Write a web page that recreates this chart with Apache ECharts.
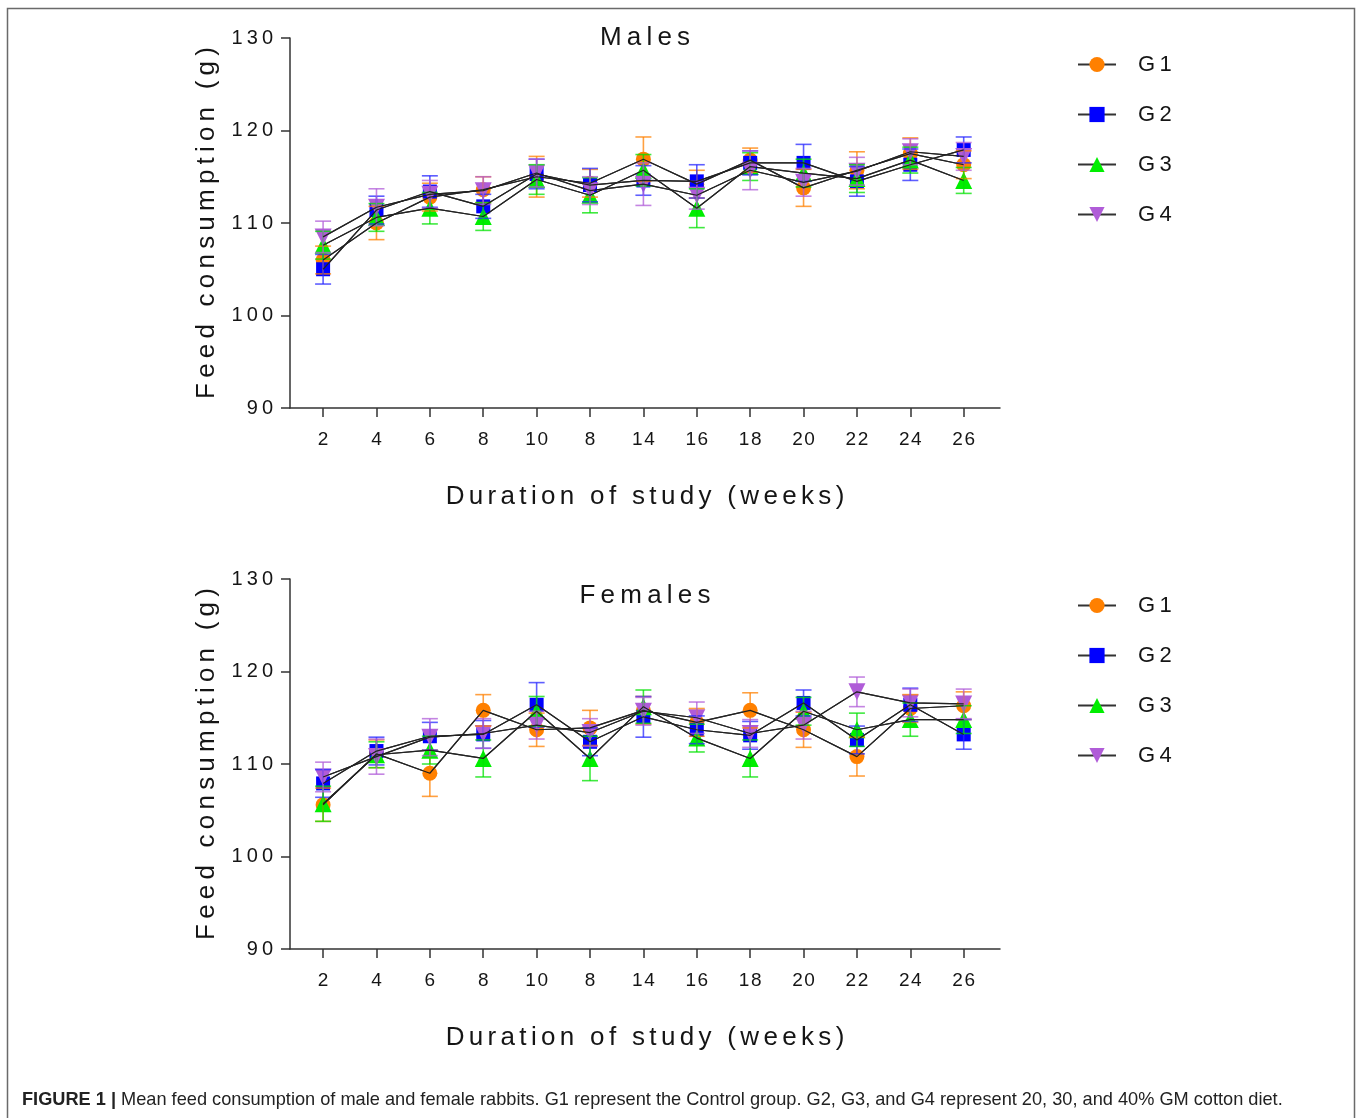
<!DOCTYPE html>
<html>
<head>
<meta charset="utf-8">
<script src="https://cdn.jsdelivr.net/npm/echarts@6/dist/echarts.min.js"></script>
<style>
html,body{margin:0;padding:0;background:#fff;}
#chart{width:1358px;height:1118px;}
</style>
</head>
<body>
<div id="chart"></div>
<script>
// ---- Data ----
const weekLabels = ['2','4','6','8','10','8','14','16','18','20','22','24','26'];
const yTicks = [90, 100, 110, 120, 130];
const groupNames = ['G1','G2','G3','G4'];

const maleG1 = [106.0,110.0,112.8,113.6,115.0,114.3,116.9,114.2,116.8,113.8,115.7,117.5,116.3];
const maleG1Err = [1.5,1.8,1.5,1.4,2.2,1.5,2.4,1.5,1.3,2.0,2.0,1.7,1.5];
const maleG2 = [105.0,111.4,113.4,111.8,115.3,114.1,114.6,114.5,116.5,116.5,114.5,116.3,117.9];
const maleG2Err = [1.6,1.5,1.7,1.3,1.6,1.8,1.6,1.8,1.3,2.0,1.6,1.7,1.4];
const maleG3 = [107.6,110.6,111.6,110.7,114.7,113.0,115.7,111.6,116.1,115.4,114.8,116.8,114.6];
const maleG3Err = [1.5,1.5,1.7,1.5,1.6,1.9,1.7,2.1,1.5,1.5,1.5,1.4,1.4];
const maleG4 = [108.5,111.7,113.1,113.5,115.4,113.5,114.2,113.0,115.7,114.4,115.6,117.7,117.2];
const maleG4Err = [1.7,2.0,1.5,1.5,1.5,1.5,2.3,1.5,2.1,1.5,1.5,1.4,1.5];

const femaleG1 = [105.6,111.1,109.0,115.8,113.7,113.9,115.8,114.5,115.8,113.7,110.8,116.0,116.3];
const femaleG1Err = [1.8,1.5,2.5,1.7,1.8,1.9,1.5,1.5,1.9,1.9,2.1,1.5,1.5];
const femaleG2 = [107.9,111.4,113.0,113.2,116.4,112.4,115.1,113.7,113.1,116.6,112.6,116.4,113.2];
const femaleG2Err = [1.5,1.5,1.5,1.5,2.4,1.5,2.2,1.5,1.5,1.4,1.5,1.8,1.6];
const femaleG3 = [105.7,111.0,111.5,110.6,115.7,110.6,116.2,112.8,110.6,115.7,113.7,114.8,114.8];
const femaleG3Err = [1.9,1.4,1.5,2.0,1.6,2.4,1.8,1.5,2.0,1.5,1.8,1.8,1.5];
const femaleG4 = [108.6,110.8,112.9,113.3,114.2,113.4,115.7,115.0,113.3,114.2,117.8,116.6,116.5];
const femaleG4Err = [1.6,1.9,2.0,1.6,1.5,1.5,1.5,1.7,1.5,1.5,1.6,1.5,1.6];

// ---- Styles ----
const FONT = '"Liberation Sans", Arial, Helvetica, sans-serif';
const THIN = '\u2009', HAIR = '\u200A', SIXTH = '\u2006';
function sp(s, ch) { return Array.from(String(s)).join(ch); }

const groupStyle = [
  {color:'#ff8000', err:'rgba(255,128,0,0.75)', symbol:'circle', size:15, rotate:0},
  {color:'#0000ff', err:'rgba(40,40,255,0.75)', symbol:'rect', size:14, rotate:0},
  {color:'#00ee00', err:'rgba(0,225,0,0.75)', symbol:'triangle', size:17, rotate:0},
  {color:'#b05cd8', err:'rgba(176,92,216,0.75)', symbol:'triangle', size:17, rotate:180}
];

const panels = [
  {title:'Males', top:38, titleTop:25, legendTop:53.5,
   vals:[maleG1,maleG2,maleG3,maleG4], errs:[maleG1Err,maleG2Err,maleG3Err,maleG4Err]},
  {title:'Females', top:579, titleTop:583, legendTop:594.5,
   vals:[femaleG1,femaleG2,femaleG3,femaleG4], errs:[femaleG1Err,femaleG2Err,femaleG3Err,femaleG4Err]}
];

const idx = weekLabels.map((_, i) => i);
const axisColor = '#333';
const textColor = '#151515';

const grid = [], xAxis = [], yAxis = [], series = [], title = [], legend = [];

panels.forEach((p, pi) => {
  grid.push({left:290, top:p.top, width:710, height:370});
  title.push({
    text: sp(p.title, THIN), left:645, top:p.titleTop, textAlign:'center', padding:0,
    textStyle:{fontFamily:FONT, fontSize:26, fontWeight:'normal', color:textColor}
  });
  xAxis.push({
    type:'value', gridIndex:pi, min:-0.62, max:12.68,
    splitLine:{show:false},
    axisLine:{onZero:false, lineStyle:{color:axisColor, width:1.5}},
    axisTick:{customValues:idx, length:9, lineStyle:{color:axisColor, width:1.5}},
    axisLabel:{customValues:idx, formatter:v => sp(weekLabels[Math.round(v)], HAIR),
      fontFamily:FONT, fontSize:19, color:textColor, margin:22},
    name: sp('Duration of study (weeks)', SIXTH), nameLocation:'middle', nameGap:76,
    nameTextStyle:{fontFamily:FONT, fontSize:26, color:textColor}
  });
  yAxis.push({
    type:'value', gridIndex:pi, min:yTicks[0], max:yTicks[yTicks.length-1], interval:10,
    splitLine:{show:false},
    axisLine:{show:true, onZero:false, lineStyle:{color:axisColor, width:1.5}},
    axisTick:{show:true, length:9, lineStyle:{color:axisColor, width:1.5}},
    axisLabel:{formatter:v => sp(v, THIN), fontFamily:FONT, fontSize:20, color:textColor, margin:17},
    name: sp('Feed consumption (g)', THIN), nameLocation:'middle', nameGap:70,
    nameTextStyle:{fontFamily:FONT, fontSize:26, color:textColor}
  });
  legend.push({
    left:1077, top:p.legendTop, orient:'vertical', padding:0,
    itemWidth:38, itemHeight:19, itemGap:28,
    data: groupNames.slice(),
    formatter: name => sp(name, THIN),
    textStyle:{fontFamily:FONT, fontSize:22, color:textColor, lineHeight:19, padding:[0,0,0,17]},
    selectedMode:false
  });

  p.vals.forEach((vals, gi) => {
    const st = groupStyle[gi];
    const errs = p.errs[gi];
    // marker series (also used for legend icon)
    series.push({
      type:'line', name:groupNames[gi], xAxisIndex:pi, yAxisIndex:pi,
      data: vals.map((v, i) => [i, v]),
      symbol:st.symbol, symbolSize:st.size, symbolRotate:st.rotate,
      showAllSymbol:true,
      itemStyle:{color:st.color, borderWidth:0},
      lineStyle:{color:'#333', width:1.2},
      z:2, animation:false, emphasis:{disabled:true}
    });
    // error bars
    series.push({
      type:'custom', name:groupNames[gi] + ' SE', xAxisIndex:pi, yAxisIndex:pi,
      data: vals.map((v, i) => [i, v - errs[i], v + errs[i]]),
      renderItem: (params, api) => {
        const lo = api.coord([api.value(0), api.value(1)]);
        const hi = api.coord([api.value(0), api.value(2)]);
        const hw = 8;
        const style = {stroke:st.err, lineWidth:1.6, fill:null};
        return {type:'group', children:[
          {type:'line', shape:{x1:lo[0], y1:lo[1], x2:hi[0], y2:hi[1]}, style},
          {type:'line', shape:{x1:lo[0]-hw, y1:lo[1], x2:lo[0]+hw, y2:lo[1]}, style},
          {type:'line', shape:{x1:hi[0]-hw, y1:hi[1], x2:hi[0]+hw, y2:hi[1]}, style}
        ]};
      },
      z:3, silent:true, animation:false
    });
    // connecting line drawn on top
    series.push({
      type:'line', name:groupNames[gi] + ' line', xAxisIndex:pi, yAxisIndex:pi,
      data: vals.map((v, i) => [i, v]),
      symbol:'none', lineStyle:{color:'#222', width:1.2},
      z:4, silent:true, animation:false
    });
  });
});

const chart = echarts.init(document.getElementById('chart'), null, {renderer:'canvas'});
chart.setOption({
  backgroundColor:'#fff',
  animation:false,
  title, grid, xAxis, yAxis, legend, series,
  graphic:[
    {type:'rect', shape:{x:7.5, y:8.5, width:1347, height:1140},
     style:{fill:null, stroke:'#6a6a6a', lineWidth:1.5}, silent:true},
    {type:'text', left:22, top:1091,
     style:{
       text:'{b|FIGURE 1 |} Mean feed consumption of male and female rabbits. G1 represent the Control group. G2, G3, and G4 represent 20, 30, and 40% GM cotton diet.',
       rich:{b:{fontWeight:'bold', fontFamily:FONT, fontSize:18.2, fill:'#222'}},
       fontFamily:FONT, fontSize:18.2, fill:'#222'
     }}
  ]
});
</script>
</body>
</html>
